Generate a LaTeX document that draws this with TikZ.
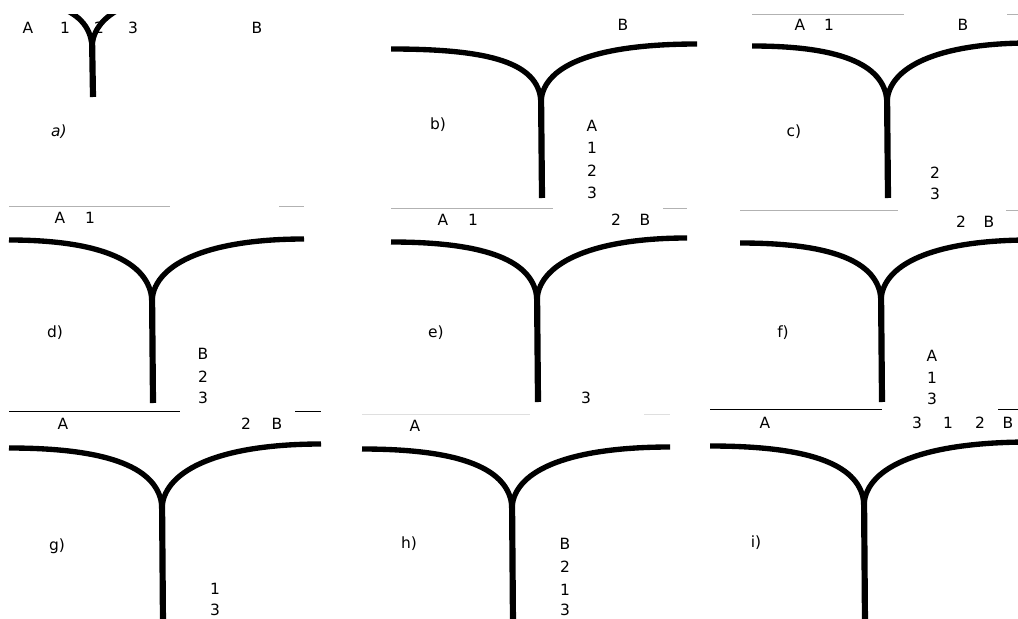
\documentclass[tikz,border=0pt]{standalone}
\usepackage{fontspec}
\newfontfamily\lblfont{DejaVu Sans}
\begin{document}
\begin{tikzpicture}[x=0.025cm, y=-0.025cm,
  track/.style={line width=3.8pt},
  stem/.style={line width=4.4pt},
  frame/.style={gray!60, line width=0.7pt},
  lbl/.style={font=\lblfont\fontsize{11}{13}\selectfont, inner sep=0pt}]

  % picture size
  \clip (0,0) rectangle (1018,618);

  % Panel a: only the lower part of the wye is seen
  \begin{scope}
    \clip (40,14) rectangle (150,110);
    \draw[track] (-58,-6) .. controls (42,-6) and (89,6) .. (92,46);
    \draw[track] (248,-11) .. controls (152,-11) and (95,6) .. (92,46);
    \draw[stem] (92,36) -- (93,97);
  \end{scope}

  % Panels b to i: wye tracks (junction, left end, right end, stem end)
  \foreach \jx/\jy/\xl/\yl/\xr/\yr/\yb in {
      541/91/391/49/697/44/198,
      887/91/752/46/1030/43/198,
      152/290/9/240/304/239/403,
      537/289/391/242/687/238/402,
      881/289/740/243/1030/240/402,
      162/497/9/448/321/444/625,
      512/497/362/449/670/447/625,
      864/494/710/446/1030/442/625}{
    \draw[track] (\xl,\yl) .. controls ({\jx-50},\yl) and ({\jx-3},{\jy-28}) .. (\jx,{\jy+10});
    \draw[track] (\xr,\yr) .. controls ({\jx+60},\yr) and ({\jx+3},{\jy-28}) .. (\jx,{\jy+10});
    \draw[stem] (\jx,\jy) -- ({\jx+1},\yb);
  }

  % Thin edges of the cropped pictures
  \draw[frame] (752,14) -- (904,14);
  \draw[frame] (1007,14) -- (1018,14);
  \draw[frame] (9,206) -- (170,206);
  \draw[frame] (279,206) -- (304,206);
  \draw[frame] (391,208) -- (553,208);
  \draw[frame] (663,208) -- (687,208);
  \draw[frame] (740,210) -- (898,210);
  \draw[frame] (1006,210) -- (1018,210);
  \draw[frame, black] (9,411) -- (180,411);
  \draw[frame, black] (295,411) -- (321,411);
  \draw[frame, gray!25] (362,414) -- (530,414);
  \draw[frame, gray!25] (644,414) -- (670,414);
  \draw[frame, black] (710,409) -- (882,409);
  \draw[frame, black] (998,409) -- (1018,409);

  % Panel captions
  \node[lbl] (capa) at (59,132) {\itshape a)};
  \foreach \n/\t/\x/\y in {capb/b)/438/125, capc/c)/794/132, capd/d)/55/333,
      cape/e)/436/333, capf/f)/783/333, capg/g)/57/546, caph/h)/409/544,
      capi/i)/756/543}
    \node[lbl] (\n) at (\x,\y) {\t};

  % Wagons and engines
  \foreach \n/\t/\x/\y in {
      aA/A/28/28, a1/1/65/28, a2/2/99/28, a3/3/133/28, aB/B/257/28,
      bB/B/623/25, bA/A/592/126, b1/1/592/148, b2/2/592/171, b3/3/592/193,
      cA/A/800/25, c1/1/829/25, cB/B/963/25, c2/2/935/173, c3/3/935/194,
      dA/A/60/218, d1/1/90/218, dB/B/203/354, d2/2/203/377, d3/3/203/398,
      eA/A/443/220, e1/1/473/220, e2/2/616/220, eB/B/645/220, e3/3/586/398,
      f2/2/961/222, fB/B/989/222, fA/A/932/356, f1/1/932/378, f3/3/932/399,
      gA/A/63/424, g2/2/246/424, gB/B/277/424, g1/1/215/589, g3/3/215/610,
      hA/A/415/426, hB/B/565/544, h2/2/565/567, h1/1/565/590, h3/3/565/610,
      iA/A/765/423, i3/3/917/423, i1/1/948/423, i2/2/980/423, iB/B/1008/423}
    \node[lbl] (\n) at (\x,\y) {\t};
\end{tikzpicture}
\end{document}
